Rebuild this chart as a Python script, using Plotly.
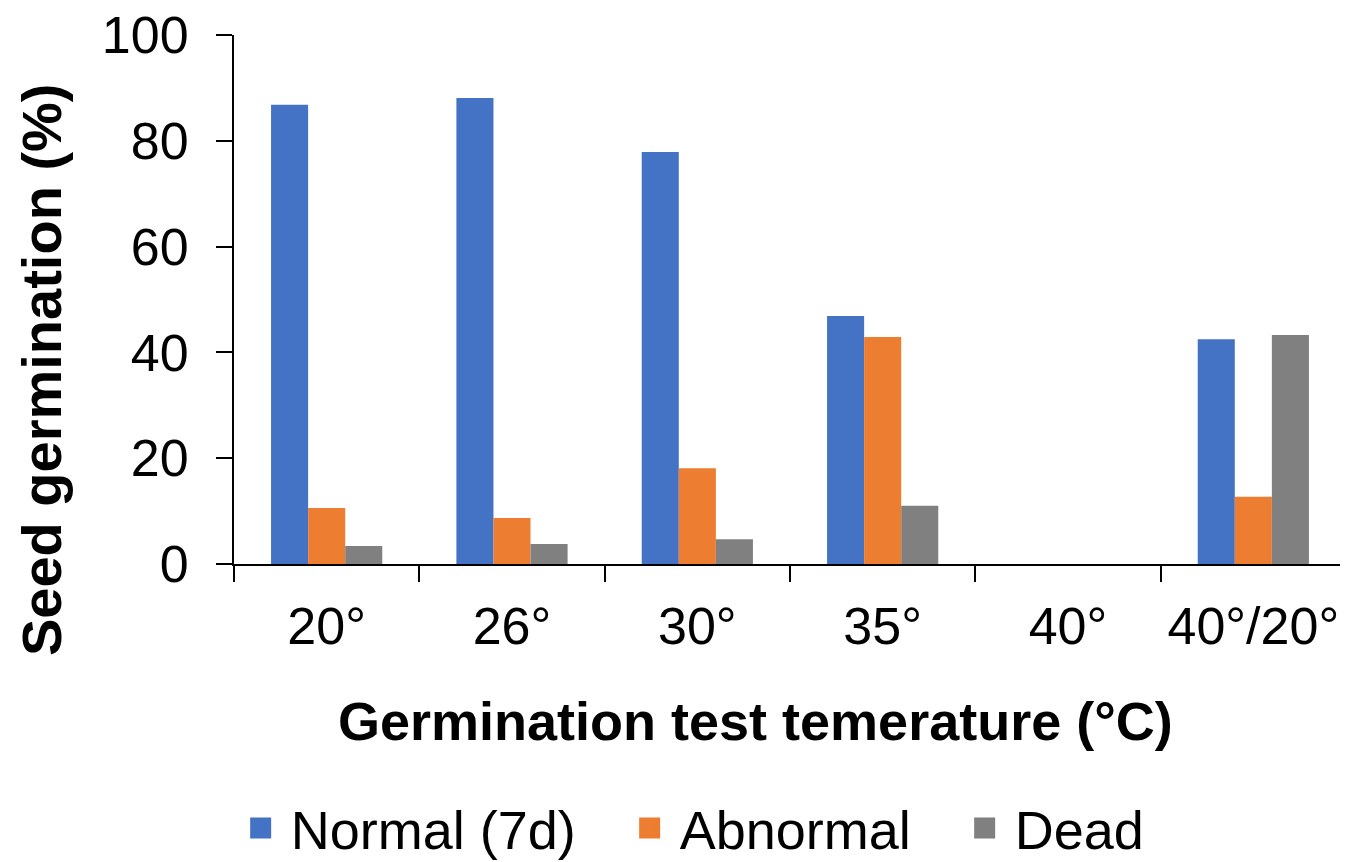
import plotly.graph_objects as go

categories = ["20°", "26°", "30°", "35°", "40°", "40°/20°"]
normal = [86.8, 88.1, 77.9, 46.9, 0, 42.5]
abnormal = [10.6, 8.7, 18.1, 42.9, 0, 12.7]
dead = [3.4, 3.8, 4.7, 11.0, 0, 43.3]

series_names = ["Normal (7d)", "Abnormal", "Dead"]
colors = ["#4472C4", "#ED7D31", "#808080"]
legend_widths = [324, 270, 140]
FONT = "Liberation Sans, Arial, sans-serif"

fig = go.Figure()
for name, vals, col in zip(series_names, [normal, abnormal, dead], colors):
    fig.add_trace(go.Bar(x=categories, y=vals, name=name, showlegend=False,
                         legendgroup=name,
                         marker=dict(color=col, line=dict(width=0))))
# legend-only entries (draw nothing in the plot) to get larger square keys
for name, col, lw in zip(series_names, colors, legend_widths):
    fig.add_trace(go.Scatter(x=[None], y=[None], mode="markers", name=name,
                             legendgroup=name, legendwidth=lw,
                             marker=dict(symbol="square", size=16, color=col,
                                         line=dict(color=col, width=5))))

fig.update_layout(
    width=1340, height=854,
    margin=dict(l=226, r=2, t=27, b=298, autoexpand=False),
    plot_bgcolor="white", paper_bgcolor="white",
    barmode="group", bargap=0.4, bargroupgap=0,
    font=dict(family=FONT, size=52, color="black"),
    showlegend=True,
    legend=dict(orientation="h", xanchor="left", yanchor="middle",
                x=-0.003, y=-0.5, font=dict(size=54), itemwidth=50,
                traceorder="normal"),
    xaxis=dict(showline=True, linecolor="black", linewidth=2,
               ticks="outside", tickson="boundaries", ticklen=16,
               tickwidth=2, tickcolor="black", showgrid=False,
               tickfont=dict(size=52), ticklabelstandoff=16, automargin=False,
               ticklabeloverflow="allow"),
    yaxis=dict(showline=True, linecolor="black", linewidth=2,
               ticks="outside", ticklen=16, tickwidth=2, tickcolor="black",
               range=[0, 100], dtick=20, showgrid=False, zeroline=False,
               tickfont=dict(size=52), ticklabelstandoff=17, automargin=False,
               ticklabeloverflow="allow"),
    annotations=[
        dict(text="<b>Germination test temerature (°C)</b>", xref="paper", yref="paper",
             x=0.469, y=-0.297, xanchor="center", yanchor="middle",
             showarrow=False, font=dict(size=54)),
        dict(text="<b>Seed germination (%)</b>", xref="paper", yref="paper",
             x=-0.1725, y=0.367, xanchor="center", yanchor="middle",
             textangle=-90, showarrow=False, font=dict(size=56)),
    ],
)

fig.write_html("out.html")
